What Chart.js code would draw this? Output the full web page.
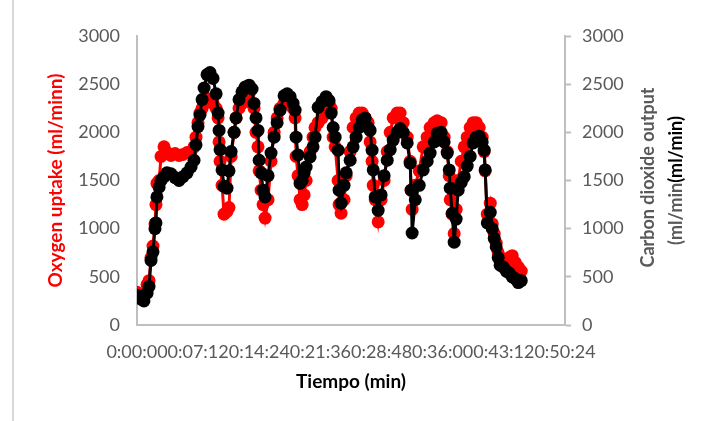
<!DOCTYPE html>
<html>
<head>
<meta charset="utf-8">
<script src="https://cdn.jsdelivr.net/npm/chart.js@4/dist/chart.umd.min.js"></script>
<style>
    html, body { margin: 0; padding: 0; background: #fff; }
    #wrap { position: relative; width: 703px; height: 421px; }
    #frame { position: absolute; left: 12px; top: 0; width: 2px; height: 421px; background: #d9d9d9; }
</style>
</head>
<body>
<div id="wrap">
    <div id="frame"></div>
    <canvas id="myChart" width="703" height="421"></canvas>
</div>
<script>
// time of each reading, in seconds
const times = [0, 28, 49, 71, 85, 99, 113, 127, 134, 141, 156, 170, 191, 212, 240, 269, 297, 325, 354, 382,
    403, 417, 431, 445, 460, 474, 495, 516, 537, 559, 573, 580, 587, 601, 615, 636, 650, 665, 686, 700,
    721, 742, 764, 792, 813, 827, 841, 855, 863, 877, 891, 905, 926, 947, 969, 990, 1011, 1039, 1061, 1082,
    1103, 1117, 1124, 1138, 1152, 1167, 1181, 1195, 1223, 1244, 1258, 1280, 1308, 1336, 1357, 1372, 1386, 1400, 1421, 1428,
    1442, 1463, 1478, 1506, 1527, 1548, 1570, 1591, 1612, 1633, 1647, 1661, 1669, 1683, 1704, 1725, 1746, 1768, 1789, 1810,
    1838, 1859, 1881, 1909, 1930, 1937, 1944, 1966, 1994, 2022, 2050, 2071, 2100, 2121, 2149, 2170, 2192, 2206, 2213, 2227,
    2241, 2255, 2269, 2291, 2312, 2333, 2354, 2375, 2397, 2418, 2439, 2453, 2460, 2475, 2496, 2510, 2524, 2538, 2552, 2566,
    2588, 2609, 2630, 2651, 2672, 2694, 2715];

// oxygen uptake (ml/min)
const oxygen = [340, 300, 290, 420, 460, 700, 820, 1050, 1250, 1470, 1500, 1750, 1850, 1790, 1760, 1780, 1760, 1770, 1790, 1800,
    1850, 1950, 2100, 2200, 2250, 2300, 2350, 2330, 2300, 2250, 2150, 1900, 1700, 1450, 1150, 1180, 1220, 1750, 2000, 2150,
    2250, 2300, 2350, 2400, 2300, 2250, 2000, 1850, 1600, 1400, 1250, 1110, 1300, 1700, 2000, 2150, 2250, 2300, 2350, 2300,
    2250, 2150, 1750, 1550, 1300, 1250, 1350, 1500, 1800, 1950, 2050, 2100, 2150, 2350, 2300, 2250, 1950, 1850, 1500, 1250,
    1160, 1300, 1550, 1800, 2050, 2150, 2200, 2200, 2150, 2100, 1900, 1700, 1450, 1300, 1070, 1300, 1500, 1800, 2000, 2150,
    2200, 2200, 2100, 1950, 1700, 1400, 1200, 1450, 1600, 1850, 1950, 2050, 2100, 2120, 2100, 1950, 1800, 1550, 1300, 1150,
    950, 1200, 1500, 1700, 1850, 1950, 2050, 2100, 2100, 2050, 1950, 1800, 1600, 1150, 1265, 1050, 950, 850, 750, 700,
    650, 620, 700, 720, 650, 600, 560];

// carbon dioxide output (ml/min)
const carbon = [310, 270, 250, 330, 400, 670, 760, 1000, 1060, 1330, 1430, 1500, 1540, 1580, 1570, 1530, 1500, 1540, 1580, 1640,
    1710, 1870, 2060, 2180, 2340, 2460, 2600, 2620, 2560, 2400, 2200, 2020, 1820, 1610, 1440, 1420, 1600, 1800, 2000, 2150,
    2340, 2420, 2470, 2490, 2450, 2300, 2150, 2020, 1710, 1580, 1400, 1330, 1550, 1785, 1950, 2100, 2230, 2380, 2400, 2370,
    2300, 2230, 1950, 1765, 1470, 1500, 1580, 1640, 1745, 1850, 1950, 2260, 2320, 2370, 2330, 2200, 2050, 1950, 1815, 1400,
    1265, 1450, 1580, 1710, 1850, 1950, 2050, 2130, 2150, 2050, 2020, 1815, 1610, 1330, 1190, 1350, 1550, 1710, 1820, 1920,
    2000, 2040, 2000, 1890, 1680, 1400, 955, 1300, 1450, 1610, 1700, 1785, 1900, 1990, 2000, 1900, 1785, 1610, 1420, 1160,
    860, 1100, 1400, 1480, 1540, 1650, 1750, 1890, 1950, 1960, 1900, 1815, 1610, 1060, 1170, 1000, 900, 810, 700, 620,
    600, 560, 540, 500, 480, 440, 460];

const xTicks = [0, 432, 864, 1296, 1728, 2160, 2592, 3024];
const yTicks = [0, 500, 1000, 1500, 2000, 2500, 3000];

const ctx = document.querySelector('#myChart').getContext('2d');
const tickFont = { family: 'Lato', size: 18 };

function toClock(sec) {
    let h = Math.floor(sec / 3600);
    let m = Math.floor((sec % 3600) / 60);
    let s = sec % 60;
    return h + ':' + String(m).padStart(2, '0') + ':' + String(s).padStart(2, '0');
}

function points(values) {
    return times.map((t, i) => ({ x: t, y: values[i] }));
}

// rotated axis titles, bottom-to-top, drawn by hand so they sit where the reference has them
const sideTitles = {
    id: 'sideTitles',
    afterDraw(chart) {
        const c = chart.ctx;
        const mid = (chart.chartArea.top + chart.chartArea.bottom) / 2;
        c.save();
        c.font = 'bold 19px Lato';
        c.textAlign = 'center';
        c.textBaseline = 'middle';
        c.translate(56, mid);
        c.rotate(-Math.PI / 2);
        c.fillStyle = '#ff0000';
        c.fillText('Oxygen uptake (ml/minn)', 0, 0);
        c.restore();

        c.save();
        c.font = 'bold 18px Lato';
        c.textAlign = 'center';
        c.textBaseline = 'middle';
        c.translate(648, mid - 3);
        c.rotate(-Math.PI / 2);
        c.fillStyle = '#595959';
        c.fillText('Carbon dioxide output', 0, 0);
        c.restore();

        c.save();
        c.font = 'bold 18px Lato';
        c.textBaseline = 'middle';
        c.translate(676, mid);
        c.rotate(-Math.PI / 2);
        const a = '(ml/min', b = '(ml/min)';
        const wa = c.measureText(a).width, wb = c.measureText(b).width;
        c.fillStyle = '#595959';
        c.fillText(a, -(wa + wb) / 2, 0);
        c.fillStyle = '#000';
        c.fillText(b, -(wa + wb) / 2 + wa, 0);
        c.restore();
    }
};

const config = {
    type: 'scatter',
    data: {
        datasets: [{
            label: 'Carbon dioxide output',
            data: points(carbon),
            yAxisID: 'y1',
            showLine: true,
            borderColor: '#000',
            backgroundColor: '#000',
            borderWidth: 3,
            pointRadius: 6.5,
            pointBorderWidth: 0,
            order: 0
        }, {
            label: 'Oxygen uptake',
            data: points(oxygen),
            yAxisID: 'y',
            showLine: true,
            borderColor: '#ff0000',
            backgroundColor: '#ff0000',
            borderWidth: 3,
            pointRadius: 6.5,
            pointBorderWidth: 0,
            order: 1
        }]
    },
    options: {
        responsive: false,
        animation: false,
        layout: { padding: { top: 36, left: 0, right: 0, bottom: 0 } },
        plugins: { legend: { display: false }, tooltip: { enabled: false } },
        scales: {
            x: {
                type: 'linear',
                min: 0,
                max: 3024,
                afterBuildTicks: (scale) => { scale.ticks = xTicks.map(v => ({ value: v })); },
                afterFit: (scale) => { scale.height = 96; },
                grid: { drawOnChartArea: false, drawTicks: false },
                border: { color: '#bfbfbf', width: 2 },
                ticks: { color: '#595959', font: tickFont, padding: 16, maxRotation: 0, autoSkip: false,
                    callback: (v) => toClock(v) },
                title: { display: true, text: 'Tiempo (min)', color: '#000',
                    font: { family: 'Lato', size: 19, weight: 'bold' }, padding: { top: 0, bottom: 28 } }
            },
            y: {
                position: 'left',
                min: 0,
                max: 3000,
                afterBuildTicks: (scale) => { scale.ticks = yTicks.map(v => ({ value: v })); },
                afterFit: (scale) => { scale.width = 137; },
                grid: { drawOnChartArea: false, drawTicks: false },
                border: { color: '#bfbfbf', width: 2 },
                ticks: { color: '#595959', font: tickFont, padding: 17, callback: (v) => String(v) }
            },
            y1: {
                position: 'right',
                min: 0,
                max: 3000,
                afterBuildTicks: (scale) => { scale.ticks = yTicks.map(v => ({ value: v })); },
                afterFit: (scale) => { scale.width = 138; },
                grid: { drawOnChartArea: false, drawTicks: true, tickLength: 6, color: '#bfbfbf', tickWidth: 2 },
                border: { color: '#bfbfbf', width: 2 },
                ticks: { color: '#595959', font: tickFont, padding: 11, callback: (v) => String(v) }
            }
        }
    },
    plugins: [sideTitles]
};

window.chart = new Chart(ctx, config);
</script>
</body>
</html>
